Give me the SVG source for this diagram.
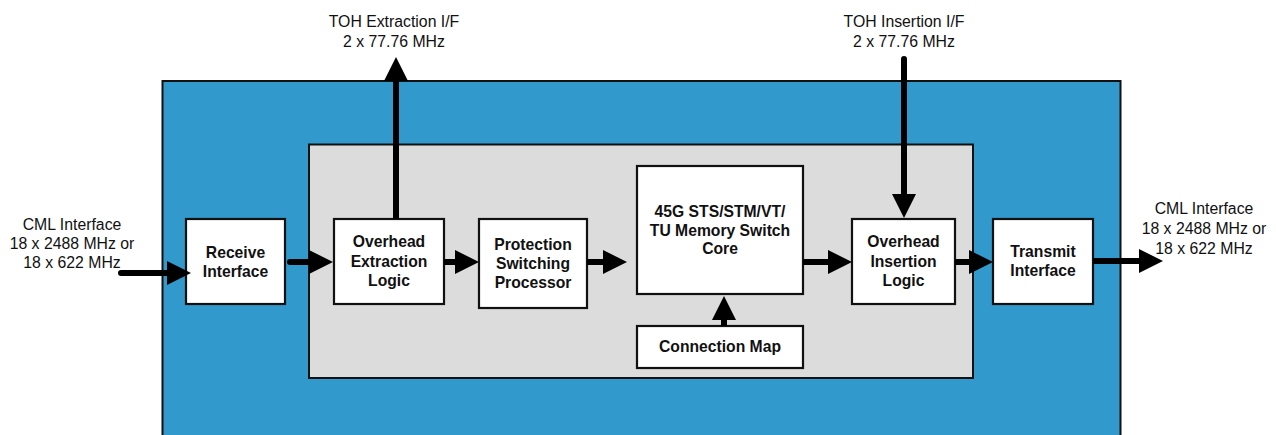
<svg xmlns="http://www.w3.org/2000/svg" width="1276" height="435" viewBox="0 0 1276 435">
<defs>
<style>
.outer{fill:#3299CC;stroke:#111;stroke-width:2}
.inner{fill:#DCDCDC;stroke:#111;stroke-width:2}
.box{fill:#fff;stroke:#111;stroke-width:2.2}
.lbl{font-family:"Liberation Sans",Arial,sans-serif;font-weight:bold;font-size:15.7px;fill:#111;text-anchor:middle}
.note{font-family:"Liberation Sans",Arial,sans-serif;font-size:15.8px;fill:#111;text-anchor:middle}
.conn{stroke:#000;stroke-width:6;fill:none;marker-end:url(#ah)}
</style>
<marker id="ah" markerUnits="userSpaceOnUse" viewBox="0 0 24 24" markerWidth="24" markerHeight="24" refX="12" refY="12" orient="auto">
<path d="M0,0 L24,12 L0,24 Z" fill="#000"/>
</marker>
</defs>
<g id="background">
<rect class="outer" x="162.5" y="81" width="958" height="370"/>
<rect class="inner" x="309" y="144.5" width="664" height="233.5"/>
</g>
<g id="receive">
<rect class="box" x="186" y="219" width="99" height="85"/>
<text class="lbl" x="235.5" y="257.5">Receive</text>
<text class="lbl" x="235.5" y="276.5">Interface</text>
</g>
<g id="oh-extract">
<rect class="box" x="334" y="219" width="110" height="85"/>
<text class="lbl" x="389" y="247">Overhead</text>
<text class="lbl" x="389" y="267">Extraction</text>
<text class="lbl" x="389" y="286">Logic</text>
</g>
<g id="protection">
<rect class="box" x="479" y="219" width="108" height="89"/>
<text class="lbl" x="533" y="249.5">Protection</text>
<text class="lbl" x="533" y="268.5">Switching</text>
<text class="lbl" x="533" y="287.5">Processor</text>
</g>
<g id="core">
<rect class="box" x="637" y="166" width="166" height="128"/>
<text class="lbl" x="720" y="216.5">45G STS/STM/VT/</text>
<text class="lbl" x="720" y="235.5">TU Memory Switch</text>
<text class="lbl" x="720" y="254">Core</text>
</g>
<g id="connection-map">
<rect class="box" x="637" y="326" width="166" height="42"/>
<text class="lbl" x="720" y="351.5">Connection Map</text>
</g>
<g id="oh-insert">
<rect class="box" x="852" y="219" width="103" height="85"/>
<text class="lbl" x="903.5" y="247">Overhead</text>
<text class="lbl" x="903.5" y="267">Insertion</text>
<text class="lbl" x="903.5" y="286">Logic</text>
</g>
<g id="transmit">
<rect class="box" x="993" y="219" width="100" height="85"/>
<text class="lbl" x="1043" y="256.5">Transmit</text>
<text class="lbl" x="1043" y="275.5">Interface</text>
</g>
<g id="label-cml-in">
<text class="note" x="72" y="229.7">CML Interface</text>
<text class="note" x="72" y="248.7">18 x 2488 MHz or</text>
<text class="note" x="72" y="267.7">18 x 622 MHz</text>
</g>
<g id="label-cml-out">
<text class="note" x="1204" y="213.7">CML Interface</text>
<text class="note" x="1204" y="233.7">18 x 2488 MHz or</text>
<text class="note" x="1204" y="253.7">18 x 622 MHz</text>
</g>
<g id="label-toh-ext">
<text class="note" x="394" y="26.7">TOH Extraction I/F</text>
<text class="note" x="394" y="46.7">2 x 77.76 MHz</text>
</g>
<g id="label-toh-ins">
<text class="note" x="904" y="26.7">TOH Insertion I/F</text>
<text class="note" x="904" y="46.7">2 x 77.76 MHz</text>
</g>
<g id="connectors">
<path class="conn" stroke-linecap="round" d="M121,273 L179,273"/>
<path class="conn" stroke-linecap="round" d="M290,262 L321,262"/>
<path class="conn" d="M444,262 L467,262"/>
<path class="conn" d="M587,262 L615,262"/>
<path class="conn" d="M803,262 L840,262"/>
<path class="conn" d="M955,262 L981,262"/>
<path class="conn" d="M1093,261 L1151,261"/>
<path class="conn" d="M724,326 L724,308"/>
<path class="conn" d="M396,219 L396,69"/>
<path class="conn" stroke-linecap="round" d="M904,59 L904,206"/>
</g>
</svg>
